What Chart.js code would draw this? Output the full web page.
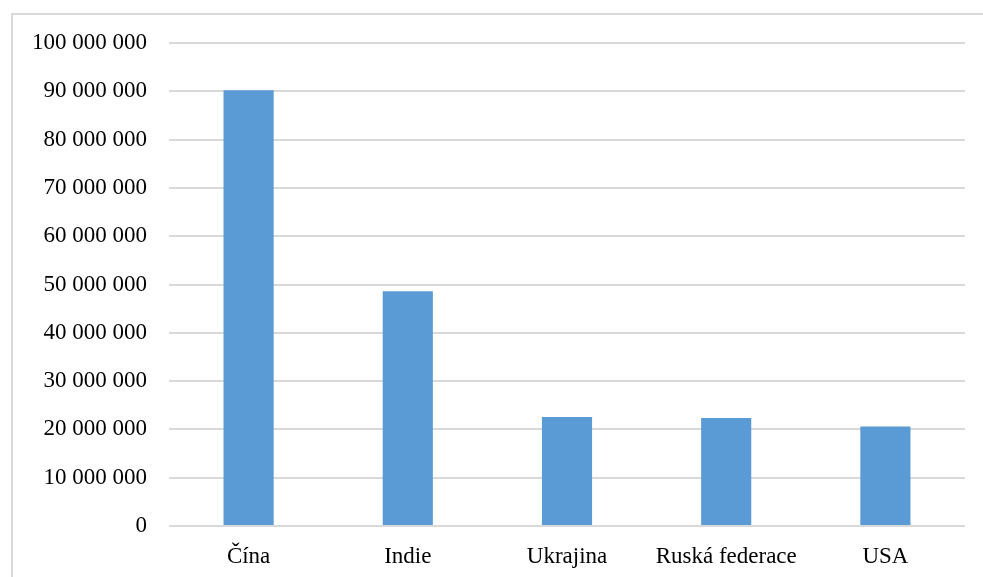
<!DOCTYPE html>
<html>
<head>
<meta charset="utf-8">
<script src="https://cdn.jsdelivr.net/npm/chart.js@4/dist/chart.umd.min.js"></script>
<style>
  html, body { margin: 0; padding: 0; background: #fff; }
  #wrap { position: relative; width: 983px; height: 577px; }
  #frame { position: absolute; left: 11px; top: 13px; right: 0; bottom: 0; border-top: 2px solid #d9d9d9; border-left: 2px solid #d9d9d9; }
  canvas { position: absolute; left: 0; top: 0; }
</style>
</head>
<body>
<div id="wrap">
  <div id="frame"></div>
  <canvas id="c" width="983" height="577"></canvas>
</div>
<script>
const categories = ["Čína", "Indie", "Ukrajina", "Ruská federace", "USA"];
const values = [90200000, 48600000, 22550000, 22350000, 20600000];
const yMin = 0;
const yMax = 100000000;
const yStep = 10000000;

function fmt(v) {
  return String(Math.round(v)).replace(/\B(?=(\d{3})+(?!\d))/g, " ");
}

new Chart(document.getElementById("c"), {
  type: "bar",
  data: {
    labels: categories,
    datasets: [{
      data: values,
      backgroundColor: "#5b9bd5",
      borderWidth: 0,
      barPercentage: 0.63,
      categoryPercentage: 0.5
    }]
  },
  options: {
    responsive: false,
    animation: false,
    layout: { padding: { left: 0, right: 18, top: 43, bottom: 0 } },
    plugins: { legend: { display: false }, tooltip: { enabled: false } },
    scales: {
      x: {
        grid: { display: false, drawTicks: false },
        border: { display: false },
        ticks: {
          color: "#000",
          font: { family: "'Liberation Serif', 'Times New Roman', serif", size: 23 },
          padding: 17,
          maxRotation: 0
        },
        afterFit(scale) { scale.height = 51; }
      },
      y: {
        min: yMin,
        max: yMax,
        grid: { color: "#d9d9d9", lineWidth: 2, drawTicks: false },
        border: { display: false },
        ticks: {
          stepSize: yStep,
          color: "#000",
          font: { family: "'Liberation Serif', 'Times New Roman', serif", size: 23 },
          padding: 22,
          callback: (v) => fmt(v)
        },
        afterFit(scale) { scale.width = 169; }
      }
    }
  }
});
</script>
</body>
</html>
